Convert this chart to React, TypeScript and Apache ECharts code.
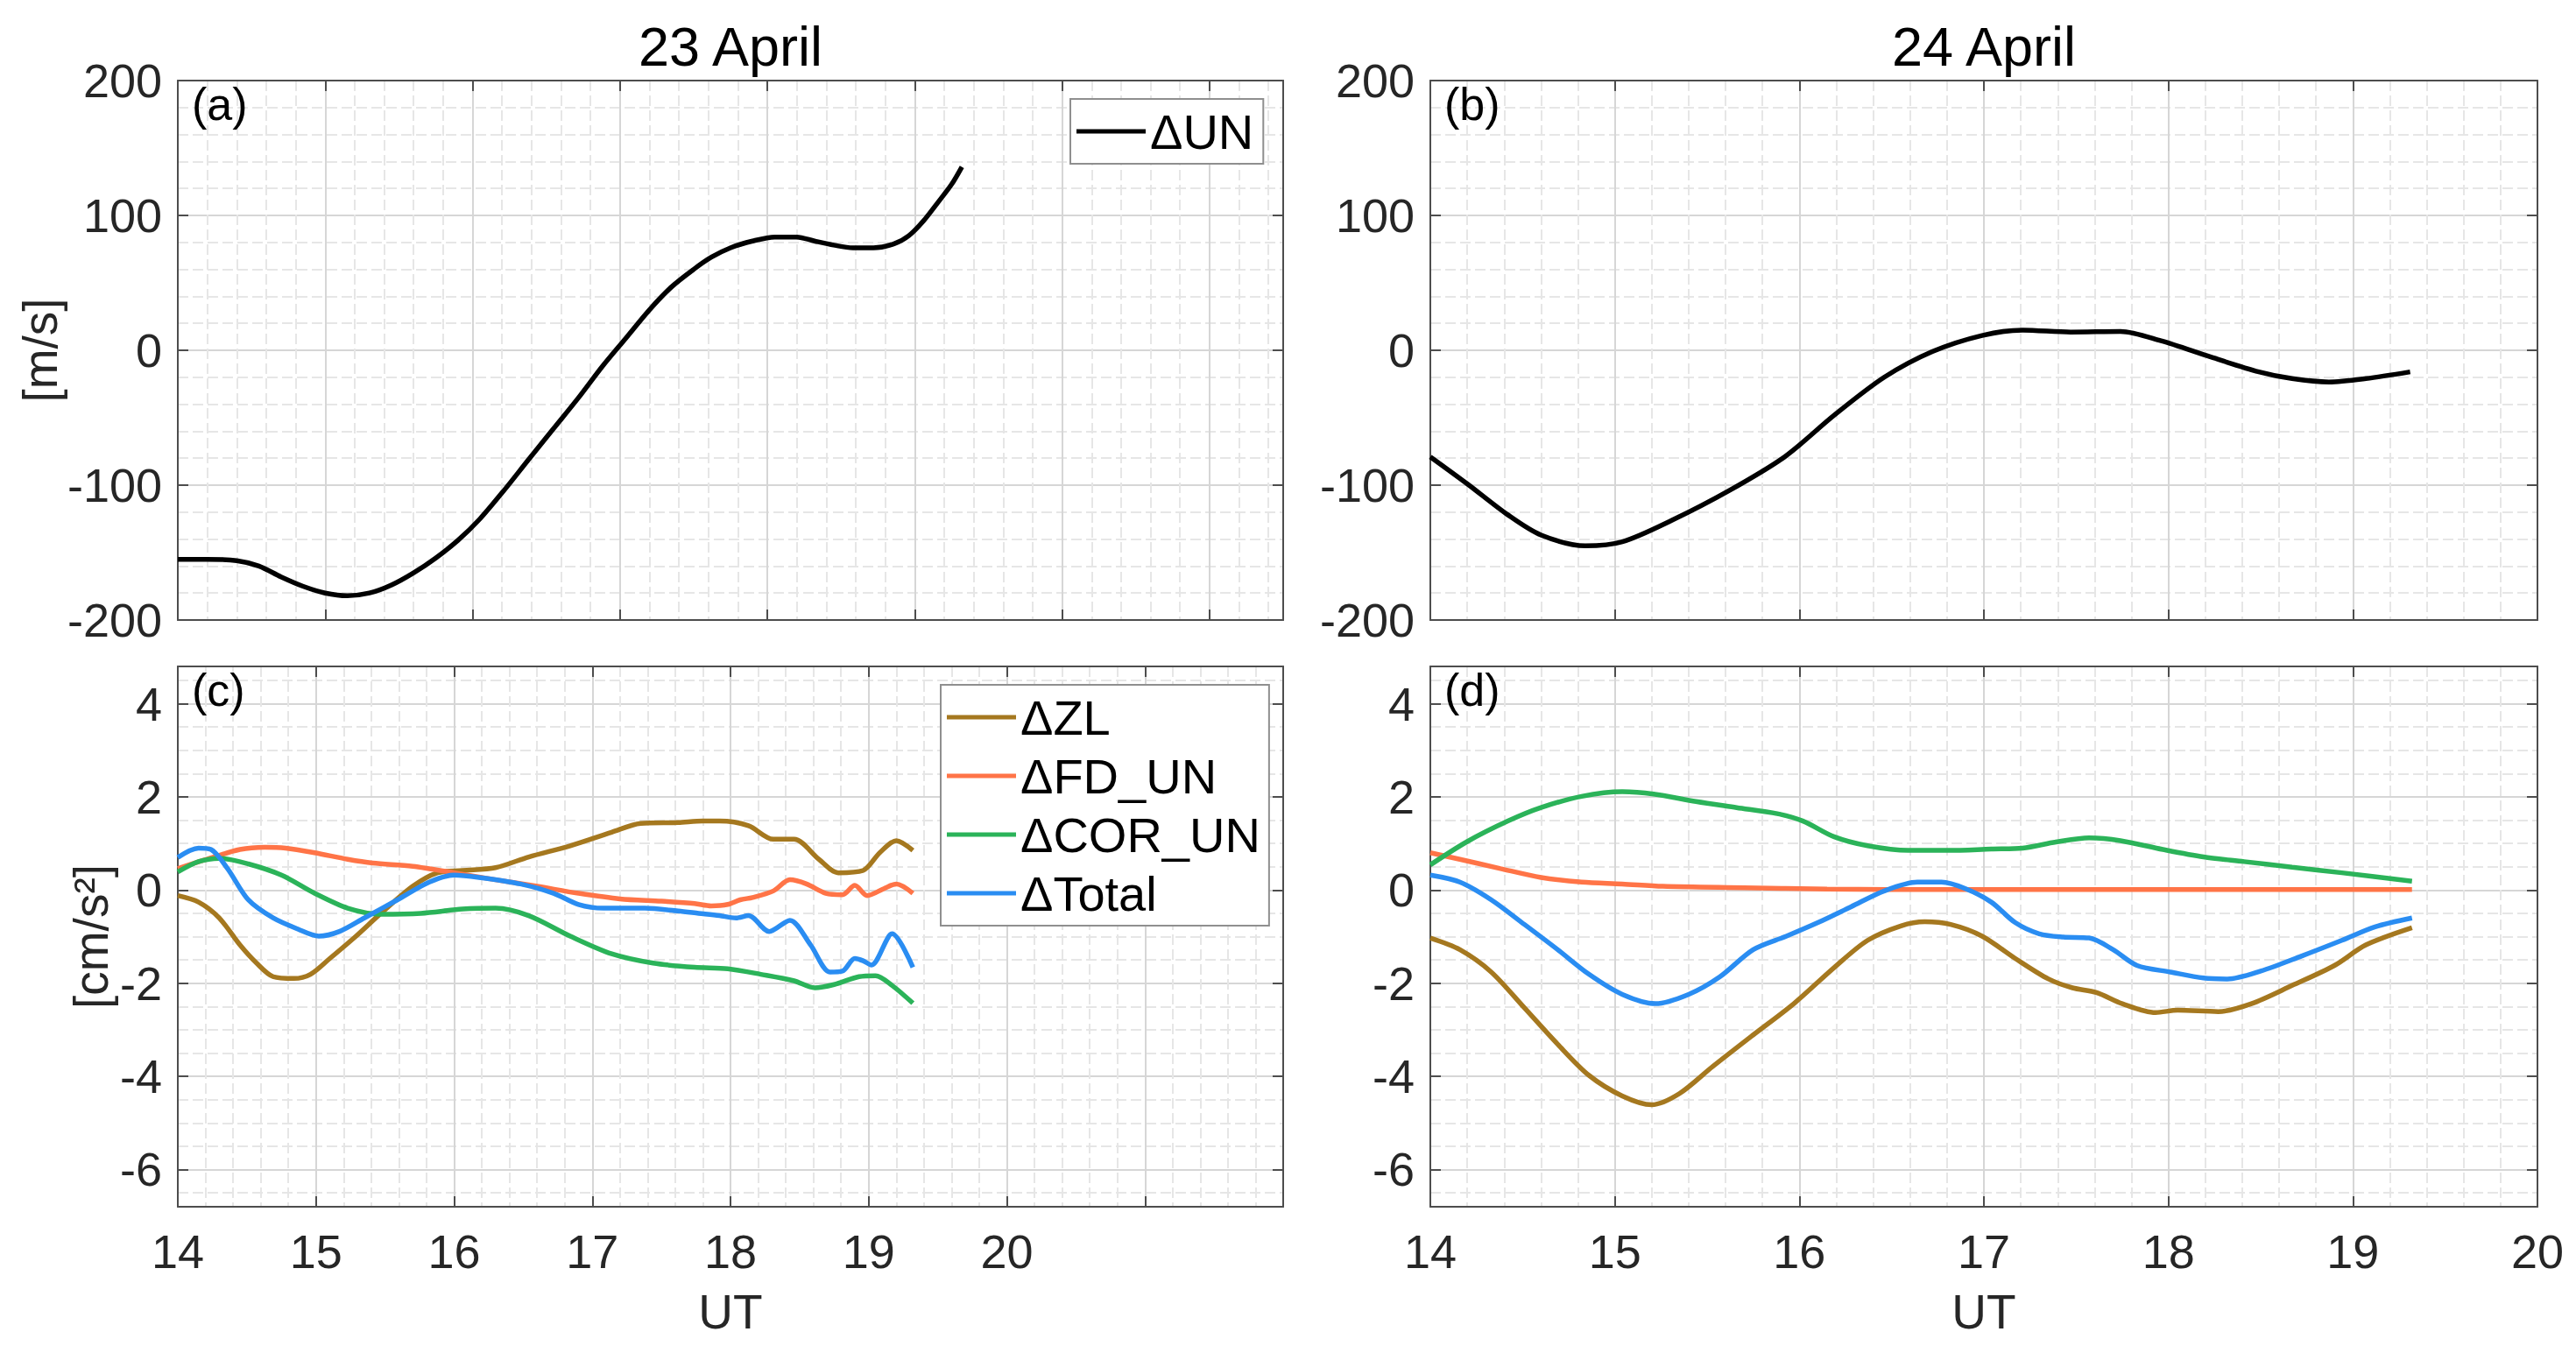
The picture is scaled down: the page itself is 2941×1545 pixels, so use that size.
import React, { useEffect, useRef } from "react";
import * as echarts from "echarts";

const FONT = '"Liberation Sans", Arial, Helvetica, sans-serif';

// ---------- data (hour UT, value) ----------
// Panel (a) ΔUN, 23 April [m/s]
const unApr23: [number, number][] = [
  [14.0, -155], [14.2, -155], [14.4, -156], [14.55, -160], [14.7, -168], [14.85, -175],
  [15.0, -180], [15.15, -182], [15.3, -180], [15.45, -174], [15.6, -165], [15.75, -154],
  [15.9, -141], [16.05, -125], [16.22, -103], [16.38, -81], [16.55, -58], [16.72, -35],
  [16.88, -12], [17.04, 9], [17.2, 30], [17.35, 47], [17.5, 60], [17.62, 69], [17.75, 76],
  [17.9, 81], [18.05, 84], [18.2, 84], [18.32, 81], [18.45, 78], [18.58, 76], [18.72, 76],
  [18.86, 79], [18.96, 85], [19.06, 96], [19.16, 110], [19.25, 123], [19.32, 136],
];
// Panel (b) ΔUN, 24 April [m/s]
const unApr24: [number, number][] = [
  [14.0, -79], [14.2, -99], [14.42, -122], [14.6, -137], [14.84, -145], [15.04, -142],
  [15.31, -126], [15.62, -104], [15.92, -79], [16.19, -48], [16.46, -20], [16.72, -1],
  [16.99, 11], [17.21, 15], [17.47, 13.5], [17.74, 14], [17.96, 7], [18.23, -5],
  [18.49, -16], [18.67, -21], [18.87, -23.5], [19.07, -21], [19.31, -16],
];
// Panel (c) 23 April [cm/s^2]
const zlApr23: [number, number][] = [
  [14.0, -0.12], [14.15, -0.26], [14.3, -0.6], [14.45, -1.18], [14.57, -1.57], [14.69, -1.86],
  [14.84, -1.9], [14.96, -1.81], [15.1, -1.47], [15.29, -0.99], [15.47, -0.5], [15.7, 0.08],
  [15.88, 0.37], [16.06, 0.42], [16.3, 0.48], [16.54, 0.71], [16.84, 0.95], [17.14, 1.24],
  [17.35, 1.43], [17.62, 1.45], [17.8, 1.48], [17.92, 1.48], [18.13, 1.38], [18.31, 1.09],
  [18.46, 1.09], [18.64, 0.66], [18.78, 0.37], [18.96, 0.42], [19.08, 0.8], [19.2, 1.06],
  [19.32, 0.85],
];
const fdApr23: [number, number][] = [
  [14.0, 0.46], [14.21, 0.66], [14.45, 0.87], [14.63, 0.92], [14.78, 0.9], [14.99, 0.8],
  [15.23, 0.66], [15.41, 0.58], [15.7, 0.51], [16.0, 0.37], [16.3, 0.22], [16.6, 0.08],
  [16.9, -0.07], [17.2, -0.19], [17.5, -0.24], [17.74, -0.29], [17.86, -0.34], [17.98, -0.31],
  [18.07, -0.21], [18.16, -0.16], [18.31, -0.02], [18.43, 0.22], [18.55, 0.13], [18.69, -0.07],
  [18.81, -0.1], [18.9, 0.1], [18.99, -0.12], [19.11, 0.03], [19.2, 0.13], [19.32, -0.07],
];
const corApr23: [number, number][] = [
  [14.0, 0.39], [14.15, 0.61], [14.3, 0.68], [14.51, 0.56], [14.75, 0.32], [14.99, -0.07],
  [15.23, -0.39], [15.47, -0.52], [15.76, -0.5], [16.06, -0.41], [16.3, -0.39], [16.54, -0.55],
  [16.84, -0.99], [17.14, -1.37], [17.44, -1.57], [17.74, -1.66], [17.98, -1.69], [18.22, -1.81],
  [18.46, -1.95], [18.61, -2.1], [18.75, -2.03], [18.93, -1.86], [19.05, -1.84], [19.17, -2.05],
  [19.32, -2.43],
];
const totalApr23: [number, number][] = [
  [14.0, 0.7], [14.15, 0.9], [14.24, 0.87], [14.36, 0.46], [14.51, -0.21], [14.69, -0.6],
  [14.87, -0.84], [15.02, -0.99], [15.17, -0.89], [15.35, -0.6], [15.59, -0.21], [15.82, 0.17],
  [16.0, 0.32], [16.18, 0.27], [16.48, 0.13], [16.72, -0.07], [16.9, -0.31], [17.08, -0.39],
  [17.38, -0.39], [17.62, -0.45], [17.77, -0.5], [17.92, -0.55], [18.04, -0.6], [18.13, -0.55],
  [18.28, -0.89], [18.43, -0.65], [18.58, -1.18], [18.72, -1.76], [18.81, -1.74], [18.9, -1.47],
  [18.96, -1.52], [19.02, -1.61], [19.17, -0.94], [19.32, -1.66],
];
// Panel (d) 24 April [cm/s^2]
const zlApr24: [number, number][] = [
  [14.0, -1.03], [14.16, -1.28], [14.33, -1.76], [14.51, -2.53], [14.69, -3.31], [14.86, -3.98],
  [15.04, -4.42], [15.2, -4.61], [15.35, -4.37], [15.53, -3.79], [15.75, -3.11], [15.97, -2.44],
  [16.19, -1.66], [16.37, -1.08], [16.55, -0.77], [16.68, -0.68], [16.82, -0.74], [16.99, -0.99],
  [17.17, -1.47], [17.35, -1.91], [17.48, -2.1], [17.61, -2.2], [17.75, -2.44], [17.93, -2.63],
  [18.05, -2.58], [18.27, -2.61], [18.45, -2.44], [18.67, -2.05], [18.9, -1.62], [19.07, -1.18],
  [19.32, -0.81],
];
const fdApr24: [number, number][] = [
  [14.0, 0.8], [14.16, 0.66], [14.38, 0.46], [14.6, 0.27], [14.82, 0.17], [15.04, 0.13],
  [15.26, 0.08], [15.7, 0.05], [16.15, 0.02], [16.81, 0.01], [17.7, 0.01], [19.32, 0.01],
];
const corApr24: [number, number][] = [
  [14.0, 0.54], [14.2, 1.04], [14.42, 1.48], [14.6, 1.77], [14.82, 2.01], [15.04, 2.11],
  [15.21, 2.06], [15.44, 1.9], [15.66, 1.77], [15.88, 1.64], [16.02, 1.48], [16.19, 1.14],
  [16.37, 0.95], [16.59, 0.85], [16.81, 0.85], [17.04, 0.88], [17.21, 0.9], [17.39, 1.03],
  [17.57, 1.12], [17.74, 1.06], [17.97, 0.87], [18.19, 0.71], [18.41, 0.61], [18.67, 0.49],
  [18.94, 0.37], [19.32, 0.19],
];
const totalApr24: [number, number][] = [
  [14.0, 0.32], [14.16, 0.17], [14.33, -0.21], [14.51, -0.74], [14.69, -1.28], [14.86, -1.81],
  [15.04, -2.24], [15.22, -2.44], [15.4, -2.24], [15.57, -1.86], [15.75, -1.28], [15.93, -0.99],
  [16.1, -0.7], [16.28, -0.36], [16.46, -0.02], [16.64, 0.17], [16.77, 0.17], [16.9, 0.03],
  [17.04, -0.26], [17.17, -0.7], [17.3, -0.94], [17.43, -1.01], [17.57, -1.03], [17.7, -1.28],
  [17.83, -1.62], [18.01, -1.76], [18.19, -1.89], [18.32, -1.91], [18.5, -1.74], [18.72, -1.42],
  [18.94, -1.08], [19.12, -0.79], [19.32, -0.6],
];

const utTickLabels = [14, 15, 16, 17, 18, 19, 20];
const panelTitles = ["23 April", "24 April"];
const panelTags = ["(a)", "(b)", "(c)", "(d)"];
const seriesNames = ["ΔZL", "ΔFD_UN", "ΔCOR_UN", "ΔTotal"];
const seriesColors = ["#A5781F", "#FF7447", "#2BB359", "#2A8DF2"];

// ---------- layout ----------
const GRIDS = [
  { left: 203, top: 92, width: 1262, height: 616 },
  { left: 1633, top: 92, width: 1264, height: 616 },
  { left: 203, top: 761, width: 1262, height: 617 },
  { left: 1633, top: 761, width: 1264, height: 617 },
];
const XMAX = [21.5, 20, 22, 20];

const AXIS_C = "#4d4d4d";
const MAJOR_C = "#d6d6d6";
const MINOR_C = "#e6e6e6";
const TXT_C = "#262626";
const LW = 5.5;

function xAxes(g: number) {
  const showLabels = g >= 2;
  const base = {
    type: "value",
    gridIndex: g,
    min: 14,
    max: XMAX[g],
    interval: 1,
    nameMoveOverlap: false,
    axisLine: { show: true, onZero: false, lineStyle: { color: AXIS_C, width: 2 } },
    axisTick: { show: true, inside: true, length: 12, lineStyle: { color: AXIS_C, width: 2 } },
  };
  return [
    {
      ...base,
      position: "bottom",
      axisLabel: {
        show: showLabels,
        margin: 24,
        fontSize: 54,
        color: TXT_C,
        fontFamily: FONT,
        formatter: (v: number) => (utTickLabels.includes(v) ? String(v) : ""),
      },
      splitLine: { show: true, showMinLine: false, showMaxLine: false, lineStyle: { color: MAJOR_C, width: 2 } },
      minorTick: { show: false, splitNumber: 5 },
      minorSplitLine: { show: true, lineStyle: { color: MINOR_C, width: 2, type: [12, 5] } },
      name: showLabels ? "UT" : "",
      nameLocation: "middle",
      nameGap: 92,
      nameTextStyle: { fontSize: 55, color: TXT_C, fontFamily: FONT },
    },
    {
      ...base,
      position: "top",
      axisLabel: { show: false },
      splitLine: { show: false },
    },
  ];
}

function yAxes(g: number) {
  const top = g < 2;
  const range = top
    ? { min: -200, max: 200, interval: 100 }
    : { min: -6.8, max: 4.8, minInterval: 2, maxInterval: 2, splitNumber: 5 };
  const base = {
    type: "value",
    gridIndex: g,
    ...range,
    nameMoveOverlap: false,
    axisLine: { show: true, onZero: false, lineStyle: { color: AXIS_C, width: 2 } },
    axisTick: { show: true, inside: true, length: 12, lineStyle: { color: AXIS_C, width: 2 } },
  };
  const name = g === 0 ? "[m/s]" : "";
  return [
    {
      ...base,
      position: "left",
      axisLabel: {
        show: true,
        margin: 18,
        fontSize: 54,
        color: TXT_C,
        fontFamily: FONT,
        showMinLabel: top,
        showMaxLabel: top,
      },
      splitLine: { show: true, showMinLine: false, showMaxLine: false, lineStyle: { color: MAJOR_C, width: 2 } },
      minorTick: { show: false, splitNumber: top ? 5 : 4 },
      minorSplitLine: { show: true, lineStyle: { color: MINOR_C, width: 2, type: [12, 5] } },
      name,
      nameLocation: "middle",
      nameGap: 130,
      nameTextStyle: { fontSize: 55, color: TXT_C, fontFamily: FONT },
    },
    {
      ...base,
      position: "right",
      axisLabel: { show: false },
      splitLine: { show: false },
    },
  ];
}

function lineSeries(name: string, data: [number, number][], g: number, color: string, width: number) {
  return {
    type: "line",
    name,
    xAxisIndex: g * 2,
    yAxisIndex: g * 2,
    data,
    showSymbol: false,
    symbol: "none",
    smooth: 0.3,
    lineStyle: { color, width },
    itemStyle: { color },
    emphasis: { disabled: true },
    z: 5,
  };
}

function buildOption() {
  const xs: any[] = [];
  const ys: any[] = [];
  for (let g = 0; g < 4; g++) {
    xs.push(...xAxes(g));
    ys.push(...yAxes(g));
  }
  const d23 = [zlApr23, fdApr23, corApr23, totalApr23];
  const d24 = [zlApr24, fdApr24, corApr24, totalApr24];
  const series: any[] = [
    lineSeries("ΔUN", unApr23, 0, "#000000", LW),
    lineSeries("ΔUN", unApr24, 1, "#000000", LW),
  ];
  seriesNames.forEach((n, i) => series.push(lineSeries(n, d23[i], 2, seriesColors[i], LW)));
  seriesNames.forEach((n, i) => series.push(lineSeries(n, d24[i], 3, seriesColors[i], LW)));

  const legendBase = {
    orient: "vertical",
    icon: "rect",
    itemWidth: 79,
    itemHeight: 5,
    itemGap: 11,
    selectedMode: false,
    backgroundColor: "#ffffff",
    borderColor: "#8f8f8f",
    borderWidth: 2,
    borderRadius: 0,
    textStyle: { fontSize: 56, color: "#000", fontFamily: FONT },
    itemStyle: { borderWidth: 0 },
  };

  const graphic: any[] = [];
  panelTitles.forEach((t, i) => {
    const gr = GRIDS[i];
    graphic.push({
      type: "text",
      x: gr.left + gr.width / 2,
      y: 53,
      style: {
        text: t,
        fill: "#000",
        font: `63px ${FONT}`,
        align: "center",
        verticalAlign: "middle",
      },
    });
  });
  panelTags.forEach((t, i) => {
    const gr = GRIDS[i];
    graphic.push({
      type: "text",
      x: gr.left + 16,
      y: gr.top + 27,
      z: 10,
      style: {
        text: t,
        fill: "#000",
        font: `52px ${FONT}`,
        align: "left",
        verticalAlign: "middle",
      },
    });
  });
  // y-axis title of the lower-left panel (placed next to its tick labels)
  graphic.push({
    type: "text",
    x: 104,
    y: GRIDS[2].top + GRIDS[2].height / 2,
    rotation: Math.PI / 2,
    style: {
      text: "[cm/s²]",
      fill: TXT_C,
      font: `55px ${FONT}`,
      align: "center",
      verticalAlign: "middle",
    },
  });

  return {
    animation: false,
    backgroundColor: "#ffffff",
    grid: GRIDS.map((g) => ({ ...g, containLabel: false })),
    xAxis: xs,
    yAxis: ys,
    legend: [
      { ...legendBase, data: ["ΔUN"], left: 1222, top: 113, padding: [9, 11, 9, 7] },
      { ...legendBase, data: seriesNames, left: 1074, top: 782, padding: [9, 10, 9, 7] },
    ],
    graphic,
    series,
  };
}

export default function App() {
  const ref = useRef<HTMLDivElement>(null);
  useEffect(() => {
    if (!ref.current) return;
    const chart = echarts.init(ref.current, undefined, { renderer: "svg" });
    chart.setOption(buildOption() as any);
    return () => chart.dispose();
  }, []);
  return (
    <div
      ref={ref}
      style={{ position: "fixed", left: 0, top: 0, width: 2941, height: 1545, background: "#fff" }}
    />
  );
}
